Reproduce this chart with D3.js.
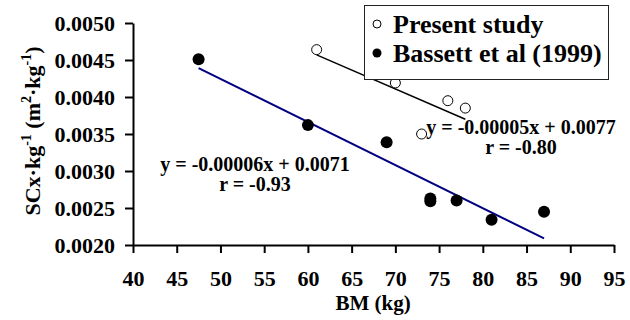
<!DOCTYPE html>
<html>
<head>
<meta charset="utf-8">
<script src="https://cdn.jsdelivr.net/npm/d3@7"></script>
<style>
  html, body { margin: 0; padding: 0; background: #fff; }
  svg { display: block; }
  text { font-family: "Liberation Serif", "Times New Roman", serif; font-weight: bold; fill: #000; }
</style>
</head>
<body>
<svg id="chart" width="630" height="320"></svg>
<script>
// ---- data ----
const presentBM = [61, 70, 76, 78, 73];
const presentSCx = [0.00464, 0.00419, 0.00395, 0.00385, 0.00350];
const bassettBM = [47.5, 60, 69, 74, 74, 77, 81, 87];
const bassettSCx = [0.00451, 0.00362, 0.00339, 0.00263, 0.00259, 0.00260, 0.00234, 0.00245];
const presentFitBM = [61, 78];
const presentFitSCx = [0.00457, 0.00370];
const bassettFitBM = [47.5, 87];
const bassettFitSCx = [0.00439, 0.00209];
const xTicks = [40, 45, 50, 55, 60, 65, 70, 75, 80, 85, 90, 95];
const yTicks = [0.0020, 0.0025, 0.0030, 0.0035, 0.0040, 0.0045, 0.0050];
const legendLabels = ["Present study", "Bassett et al (1999)"];
const presentEq = ["y = -0.00005x + 0.0077", "r = -0.80"];
const bassettEq = ["y = -0.00006x + 0.0071", "r = -0.93"];

const svg = d3.select("#chart");
const x = d3.scaleLinear().domain([40, 95]).range([133, 614]);
const y = d3.scaleLinear().domain([0.002, 0.005]).range([245, 23]);

// axes
const yAxis = svg.append("g").attr("transform", "translate(133,0)")
  .call(d3.axisLeft(y).tickValues(yTicks).tickFormat(d3.format(".4f")).tickSize(8).tickSizeOuter(0).tickPadding(10));
const xAxis = svg.append("g").attr("transform", "translate(0,245)")
  .call(d3.axisBottom(x).tickValues(xTicks).tickFormat(d3.format("d")).tickSize(8).tickSizeOuter(0).tickPadding(17));
[yAxis, xAxis].forEach(g => {
  g.attr("font-family", "Liberation Serif").attr("font-size", 22).attr("font-weight", "bold");
  g.selectAll("path.domain").attr("stroke", "#000").attr("stroke-width", 2);
  g.selectAll(".tick line").attr("stroke", "#000").attr("stroke-width", 2);
  g.selectAll(".tick text").style("font-size", "22px").style("font-weight", "bold").attr("fill", "#000");
});

// axis titles
svg.append("text").attr("x", 373).attr("y", 310).attr("text-anchor", "middle")
  .style("font-size", "21px").text("BM (kg)");
const yl = svg.append("text").attr("transform", "translate(40,131) rotate(-90)")
  .attr("text-anchor", "middle").style("font-size", "22px");
yl.append("tspan").text("SCx·kg");
yl.append("tspan").attr("dy", -9).style("font-size", "14px").text("-1");
yl.append("tspan").attr("dy", 9).text(" (m");
yl.append("tspan").attr("dy", -9).style("font-size", "14px").text("2");
yl.append("tspan").attr("dy", 9).text("·kg");
yl.append("tspan").attr("dy", -9).style("font-size", "14px").text("-1");
yl.append("tspan").attr("dy", 9).text(")");

// fit lines
const line = d3.line().x(d => x(d[0])).y(d => y(d[1]));
svg.append("path").datum(d3.zip(bassettFitBM, bassettFitSCx)).attr("d", line)
  .attr("fill", "none").attr("stroke", "#000080").attr("stroke-width", 2);
svg.append("path").datum(d3.zip(presentFitBM, presentFitSCx)).attr("d", line)
  .attr("fill", "none").attr("stroke", "#000").attr("stroke-width", 1.5);

// points
svg.append("g").selectAll("circle").data(d3.zip(bassettBM, bassettSCx)).join("circle")
  .attr("cx", d => x(d[0])).attr("cy", d => y(d[1])).attr("r", 6).attr("fill", "#000");
svg.append("g").selectAll("circle").data(d3.zip(presentBM, presentSCx)).join("circle")
  .attr("cx", d => x(d[0])).attr("cy", d => y(d[1])).attr("r", 5)
  .attr("fill", "#fff").attr("stroke", "#000").attr("stroke-width", 1);

// equations
function eq(lines, cx, by) {
  svg.append("g").selectAll("text").data(lines).join("text")
    .attr("x", cx).attr("y", (d, i) => by + i * 20).attr("text-anchor", "middle")
    .style("font-size", "20px").text(d => d);
}
eq(bassettEq, 255, 171);
eq(presentEq, 521, 134);

// legend
svg.append("rect").attr("x", 364.5).attr("y", 5.5).attr("width", 244).attr("height", 74)
  .attr("fill", "#fff").attr("stroke", "#222").attr("stroke-width", 1);
const lg = svg.append("g");
lg.append("circle").attr("cx", 377).attr("cy", 24).attr("r", 4).attr("fill", "#fff").attr("stroke", "#000").attr("stroke-width", 1);
lg.append("circle").attr("cx", 377).attr("cy", 53).attr("r", 4.5).attr("fill", "#000");
lg.selectAll("text").data(legendLabels).join("text")
  .attr("x", 393).attr("y", (d, i) => 33 + i * 29).style("font-size", "26px").text(d => d);
</script>
</body>
</html>
